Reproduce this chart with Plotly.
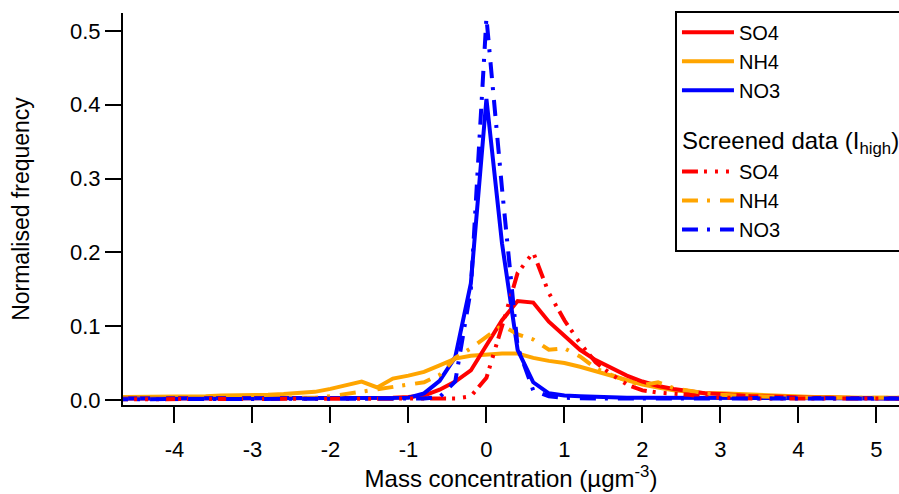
import plotly.graph_objects as go

# bin centres (µg m-3)
conc = [-4.8, -4.6, -4.4, -4.2, -4.0, -3.8, -3.6, -3.4, -3.2, -3.0, -2.8, -2.6, -2.4,
        -2.2, -2.0, -1.8, -1.6, -1.4, -1.2, -1.0, -0.8, -0.6, -0.4, -0.2, 0.0, 0.2,
        0.4, 0.6, 0.8, 1.0, 1.2, 1.4, 1.6, 1.8, 2.0, 2.2, 2.4, 2.6, 2.8, 3.0, 3.2,
        3.4, 3.6, 3.8, 4.0, 4.2, 4.4, 4.6, 4.8, 5.0, 5.2, 5.4]

so4 = [0.002, 0.002, 0.002, 0.002, 0.002, 0.002, 0.002, 0.002, 0.002, 0.002, 0.002, 0.002, 0.002,
       0.002, 0.002, 0.002, 0.002, 0.002, 0.003, 0.004, 0.006, 0.014, 0.025, 0.040, 0.074, 0.108,
       0.134, 0.132, 0.106, 0.087, 0.068, 0.054, 0.043, 0.033, 0.025, 0.019, 0.015, 0.012, 0.009, 0.008, 0.006,
       0.005, 0.005, 0.004, 0.004, 0.003, 0.003, 0.003, 0.002, 0.002, 0.002, 0.002]

nh4 = [0.004, 0.004, 0.004, 0.005, 0.005, 0.004, 0.005, 0.006, 0.006, 0.007, 0.007, 0.008, 0.009,
       0.011, 0.015, 0.020, 0.025, 0.017, 0.029, 0.033, 0.038, 0.047, 0.056, 0.060, 0.062, 0.063,
       0.063, 0.057, 0.053, 0.050, 0.045, 0.039, 0.032, 0.027, 0.021, 0.017, 0.013, 0.011, 0.009, 0.009, 0.008,
       0.007, 0.006, 0.005, 0.004, 0.004, 0.004, 0.003, 0.003, 0.003, 0.003, 0.003]

no3 = [0.002, 0.002, 0.002, 0.002, 0.002, 0.002, 0.002, 0.002, 0.002, 0.002, 0.002, 0.002, 0.002,
       0.002, 0.002, 0.002, 0.002, 0.002, 0.002, 0.003, 0.009, 0.026, 0.058, 0.158, 0.408, 0.212,
       0.068, 0.024, 0.009, 0.006, 0.005, 0.004, 0.004, 0.003, 0.003, 0.003, 0.003, 0.002, 0.002, 0.002, 0.002,
       0.002, 0.002, 0.002, 0.002, 0.002, 0.002, 0.002, 0.002, 0.002, 0.002, 0.002]

so4_scr = [0.001, 0.001, 0.001, 0.001, 0.001, 0.001, 0.001, 0.001, 0.001, 0.001, 0.001, 0.001, 0.001,
           0.001, 0.001, 0.001, 0.001, 0.001, 0.001, 0.001, 0.001, 0.001, 0.002, 0.005, 0.030, 0.100,
           0.172, 0.200, 0.145, 0.108, 0.077, 0.051, 0.035, 0.021, 0.013, 0.010, 0.009, 0.007, 0.004, 0.003, 0.002,
           0.002, 0.002, 0.002, 0.002, 0.002, 0.002, 0.002, 0.002, 0.002, 0.002, 0.002]

nh4_scr = [0.002, 0.002, 0.002, 0.002, 0.002, 0.002, 0.002, 0.002, 0.002, 0.002, 0.002, 0.002, 0.002,
           0.003, 0.005, 0.008, 0.011, 0.014, 0.017, 0.020, 0.024, 0.034, 0.057, 0.070, 0.085, 0.101,
           0.089, 0.082, 0.068, 0.070, 0.059, 0.043, 0.034, 0.026, 0.020, 0.024, 0.016, 0.012, 0.009, 0.007, 0.006,
           0.005, 0.004, 0.004, 0.003, 0.003, 0.003, 0.003, 0.003, 0.003, 0.003, 0.003]

no3_scr = [0.001, 0.001, 0.001, 0.001, 0.001, 0.001, 0.001, 0.001, 0.001, 0.001, 0.001, 0.001, 0.001,
           0.001, 0.001, 0.001, 0.001, 0.001, 0.001, 0.001, 0.002, 0.004, 0.025, 0.150, 0.518, 0.286,
           0.072, 0.013, 0.005, 0.003, 0.002, 0.002, 0.002, 0.002, 0.002, 0.002, 0.002, 0.002, 0.002, 0.002, 0.002,
           0.002, 0.002, 0.002, 0.002, 0.002, 0.002, 0.002, 0.002, 0.002, 0.002, 0.002]

labels = ["SO4", "NH4", "NO3"]
colors = {"SO4": "#FF0000", "NH4": "#FFA500", "NO3": "#0000FF"}
screened_title = "Screened data (I<sub>high</sub>)"

FONT = "Liberation Sans, Arial, Helvetica, sans-serif"
TICK_SIZE = 22
LEG_SIZE = 20
LW = 4
DASH_SO4 = "16px,6px,3px,8px,3px,8px,3px,6px"
DASH_OTHER = "16px,9px,3px,10px"

solid = {"SO4": so4, "NH4": nh4, "NO3": no3}
scr = {"SO4": so4_scr, "NH4": nh4_scr, "NO3": no3_scr}

fig = go.Figure()
draw_order = ["NH4", "SO4", "NO3"]
rank = {"SO4": 1, "NH4": 2, "NO3": 3}
for name in draw_order:
    fig.add_trace(go.Scatter(
        x=conc, y=solid[name], mode="lines", name=name,
        line=dict(color=colors[name], width=LW),
        legendgroup="all", legendrank=rank[name]))
for name in draw_order:
    fig.add_trace(go.Scatter(
        x=conc, y=scr[name], mode="lines", name=name,
        line=dict(color=colors[name], width=LW,
                  dash=DASH_SO4 if name == "SO4" else DASH_OTHER),
        legendgroup="scr", legendrank=10 + rank[name],
        legendgrouptitle=dict(text=screened_title,
                              font=dict(family=FONT, size=24, color="black"))))

axis_common = dict(
    showline=True, linecolor="black", linewidth=2,
    ticks="outside", ticklen=16, tickwidth=2, tickcolor="black",
    showgrid=False, zeroline=False, mirror=False, automargin=False,
    tickfont=dict(family=FONT, size=TICK_SIZE, color="black"),
)

# figure is a little wider than the 899 px window so the legend box runs off the right edge,
# as in the reference; the plot area still ends at x = 899.
fig.update_layout(
    width=940, height=494,
    margin=dict(l=123, r=41, t=12, b=89),
    paper_bgcolor="white", plot_bgcolor="white",
    font=dict(family=FONT, size=TICK_SIZE, color="black"),
    xaxis=dict(range=[-4.66, 5.29], tickmode="array",
               tickvals=[-4, -3, -2, -1, 0, 1, 2, 3, 4, 5],
               ticktext=["-4", "-3", "-2", "-1", "0", "1", "2", "3", "4", "5"],
               ticklabelstandoff=8,
               title=dict(text="Mass concentration (µgm<sup>-3</sup>)",
                          font=dict(family=FONT, size=24, color="black"), standoff=8),
               **axis_common),
    yaxis=dict(range=[-0.0068, 0.5243], tickmode="array",
               tickvals=[0.0, 0.1, 0.2, 0.3, 0.4, 0.5],
               ticktext=["0.0", "0.1", "0.2", "0.3", "0.4", "0.5"],
               title=dict(text="Normalised frequency",
                          font=dict(family=FONT, size=23, color="black"), standoff=34),
               **axis_common),
    legend=dict(x=0.7113, y=1.003, xanchor="left", yanchor="top",
                bordercolor="black", borderwidth=2, bgcolor="white",
                font=dict(family=FONT, size=LEG_SIZE, color="black"),
                tracegroupgap=18, itemwidth=52, groupclick="toggleitem"),
    showlegend=True,
)

fig.write_html("out.html", config={"displayModeBar": False},
               post_script="document.body.style.margin='0';document.body.style.overflow='hidden';document.documentElement.style.overflow='hidden';")
